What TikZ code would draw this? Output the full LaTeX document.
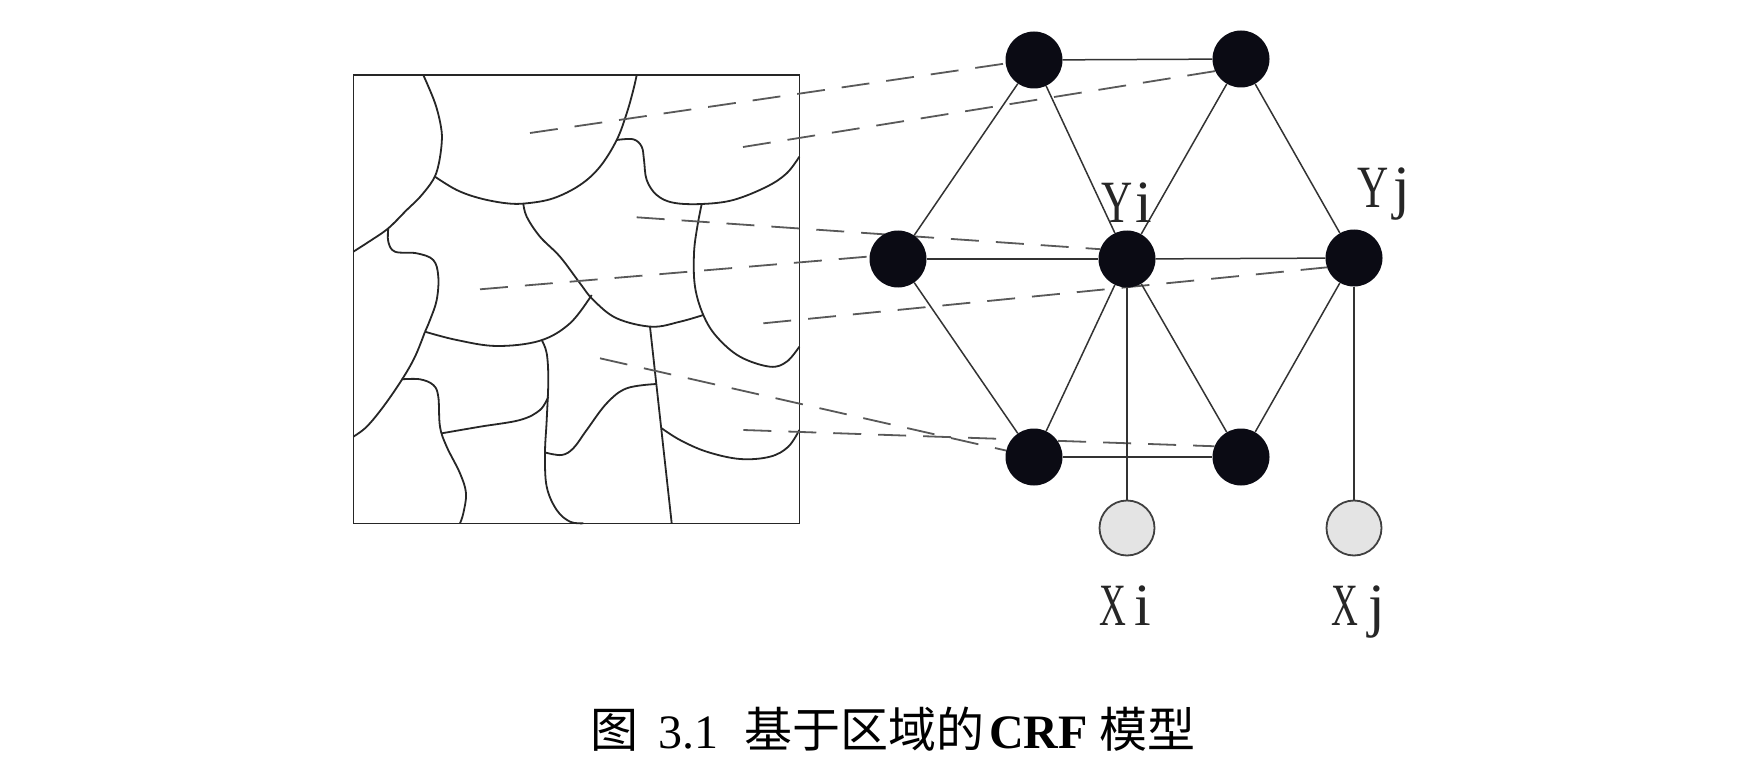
\documentclass[tikz,border=0pt]{standalone}
\usepackage{fontspec}
\usepackage{graphicx}
\newfontfamily\cjk{Noto Sans CJK SC}
\newfontfamily\capserif{Liberation Serif}
\pgfdeclarelayer{bglayer}
\pgfdeclarelayer{linelayer}
\pgfsetlayers{bglayer,linelayer,main}
\definecolor{nodeblack}{HTML}{0B0B14}
\definecolor{xgray}{HTML}{E4E4E4}
\newcommand{\nrw}[2]{\scalebox{#1}[1]{#2}}
\begin{document}
\begin{tikzpicture}[x=1pt,y=-1pt,
  ynode/.style={circle, fill=nodeblack, draw=none, minimum size=57pt, inner sep=0pt},
  xnode/.style={circle, fill=xgray, draw=black!75, line width=1.8pt, minimum size=55pt, inner sep=0pt},
  edgeline/.style={line width=1.5pt, draw=black!80},
  proj/.style={line width=1.8pt, draw=black!65, dash pattern=on 28pt off 17pt},
  region/.style={line width=1.8pt, draw=black!85, line join=round},
  framebox/.style={line width=1.6pt, draw=black!85},
  lbl/.style={font=\capserif\fontsize{60}{66}\selectfont, text=black!85, inner sep=0pt, anchor=base west},
  capcjk/.style={font=\cjk\fontsize{48}{52}\selectfont, inner sep=0pt, anchor=base},
  caplat/.style={font=\capserif\fontsize{48}{52}\selectfont, inner sep=0pt, anchor=base}]

\begin{pgfonlayer}{bglayer}
  \fill[white] (0,0) rectangle (1759,770);
\end{pgfonlayer}
\useasboundingbox (0,0) rectangle (1759,770);

% graph nodes
\node[ynode] (T1) at (1034,60) {};
\node[ynode] (T2) at (1241,59) {};
\node[ynode] (M1) at (898,259) {};
\node[ynode] (Yi) at (1127,259) {};
\node[ynode] (Yj) at (1354,258) {};
\node[ynode] (B1) at (1034,457) {};
\node[ynode] (B2) at (1241,457) {};
\node[xnode] (Xi) at (1127,528) {};
\node[xnode] (Xj) at (1354,528) {};

% labels
\node[lbl] (lYi) at (1101,223) {\nrw{0.72}{Y}\hspace{3pt}i};
\node[lbl] (lYj) at (1357,208) {\nrw{0.72}{Y}\hspace{5pt}j};
\node[lbl] (lXi) at (1099,625) {\nrw{0.62}{X}\hspace{8pt}i};
\node[lbl] (lXj) at (1331,625) {\nrw{0.62}{X}\hspace{10pt}j};

% caption
\node[capcjk] (c1) at (614,747) {图};
\node[caplat] (c2) at (688.5,748) {3.1};
\node[capcjk] (c3) at (864,747) {基于区域的};
\node[caplat, font=\capserif\bfseries\fontsize{48}{52}\selectfont] (c4) at (1038.5,748) {CRF};
\node[capcjk] (c5) at (1147.5,747) {模型};

% region points
\coordinate (p1) at (530,133);
\coordinate (p2) at (743,147);
\coordinate (p3) at (636.7,217.3);
\coordinate (p4) at (480,289.3);
\coordinate (p5) at (763.3,323.3);
\coordinate (p6) at (600,358.3);
\coordinate (p7) at (743.3,430);

\begin{pgfonlayer}{linelayer}
  % segmented image
  \draw[framebox] (353.3,75) rectangle (799.3,523.3);
  % A
  \draw[region] plot[smooth, tension=0.6] coordinates {(423.3,75) (435,103) (441,127) (441.7,143) (438.5,165) (433,180) (420,197) (406.7,210) (388.3,228.3) (370,241) (353.3,251.7)};
  % B
  \draw[region] plot[smooth, tension=0.6] coordinates {(435,176.7) (456.7,190) (480,198.3) (506.7,203.3) (526.7,203.3) (553.3,198.3) (580,185) (600,166.7) (616.7,140) (626.7,113.3) (633.3,90) (636.7,75)};
  % C
  \draw[region] plot[smooth, tension=0.6] coordinates {(616.7,140) (633.3,139.3) (641.7,146.7) (644,160) (646.7,180) (656.7,195) (673.3,202.7) (701.7,204) (733.3,200) (766.7,186.7) (786.7,173.3) (799.3,156.7)};
  % D
  \draw[region] plot[smooth, tension=0.6] coordinates {(523.3,203.3) (526.7,216.7) (540,236.7) (560,256.7) (580,283.3) (593.3,300) (616.7,318.3) (651.7,326.7) (680,321.7) (703.3,315)};
  % E
  \draw[region] plot[smooth, tension=0.6] coordinates {(701.7,204) (697.3,226.7) (694,253.3) (695,286.7) (703.3,315) (716.7,336.7) (740,356.7) (770,366.7) (786.7,361.7) (799.3,346.7)};
  % F
  \draw[region] plot[smooth, tension=0.6] coordinates {(388.3,228.3) (388.3,241.7) (395,251.7) (416.7,253.3) (433.3,260) (438.3,276.7) (436.7,300) (430,320) (425,331.7)};
  % G
  \draw[region] plot[smooth, tension=0.6] coordinates {(425,331.7) (415,356.7) (401.7,380) (383.3,406.7) (366.7,426.7) (353.3,436.7)};
  % H
  \draw[region] plot[smooth, tension=0.6] coordinates {(425,331.7) (456.7,340) (496.7,346) (540,340.7) (570,323.3) (591.7,295)};
  % I
  \draw[region] plot[smooth, tension=0.6] coordinates {(541.7,340) (546.7,353.3) (548.3,380) (546.7,420) (545,453.3) (546.7,486.7) (556.7,510) (570,521.7) (583.3,523.3)};
  % J
  \draw[region] plot[smooth, tension=0.6] coordinates {(401.7,379.3) (420,379.3) (433.3,385) (438.3,396.7) (440,426.7) (446.7,446.7) (460,473.3) (466,493.3) (463.3,513.3) (460,523.3)};
  % K
  \draw[region] plot[smooth, tension=0.6] coordinates {(441.7,433.3) (480,426.7) (520,420) (540,410) (548.3,396.7)};
  % L
  \draw[region] plot[smooth, tension=0.6] coordinates {(546,452.7) (561.7,455) (573.3,448.3) (586.7,430) (606.7,403.3) (626.7,388.3) (656.4,384)};
  % M
  \draw[region] (650,326.7) -- (671.7,523.3);
  % N
  \draw[region] plot[smooth, tension=0.6] coordinates {(661.7,428.3) (680,440) (706.7,451.7) (740,459) (770,456.7) (788.3,446.7) (799.3,430)};

  % projections
  \draw[proj] (p1) -- (T1.187);
  \draw[proj] (p2) -- (T2.205);
  \draw[proj] (p3) -- (Yi.160);
  \draw[proj] (p4) -- (M1.175);
  \draw[proj] (p5) -- (Yj.199);
  \draw[proj] (p6) -- (B1.167);
  \draw[proj] (p7) -- (B2.158);

  % graph edges
  \draw[edgeline] (T1) -- (T2);
  \draw[edgeline] (T1) -- (M1);
  \draw[edgeline] (T1) -- (Yi);
  \draw[edgeline] (T2) -- (Yi);
  \draw[edgeline] (T2) -- (Yj);
  \draw[edgeline] (M1) -- (Yi);
  \draw[edgeline] (Yi) -- (Yj);
  \draw[edgeline] (M1) -- (B1);
  \draw[edgeline] (Yi) -- (B1);
  \draw[edgeline] (Yi) -- (B2);
  \draw[edgeline] (Yj) -- (B2);
  \draw[edgeline] (B1) -- (B2);
  \draw[edgeline] (Yi) -- (Xi);
  \draw[edgeline] (Yj) -- (Xj);
\end{pgfonlayer}
\end{tikzpicture}
\end{document}
